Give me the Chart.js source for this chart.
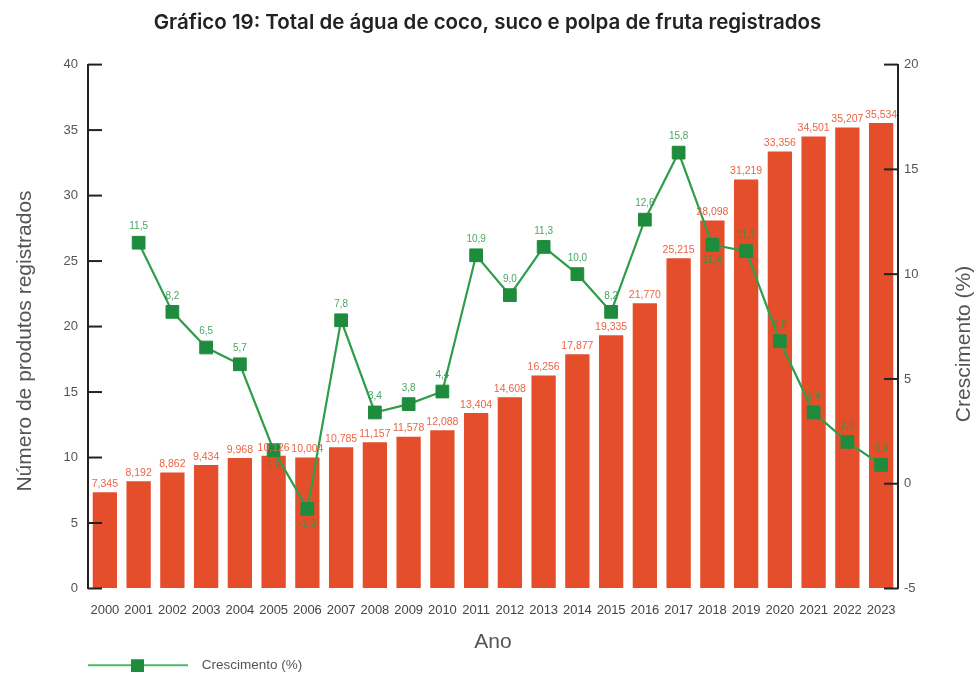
<!DOCTYPE html>
<html><head><meta charset="utf-8">
<script src="https://cdn.jsdelivr.net/npm/chart.js@4.4.1/dist/chart.umd.min.js"></script>
<style>html,body{margin:0;padding:0;background:#fff}#wrap{width:975px;height:683px}</style>
</head><body><div id="wrap"><canvas id="c" width="975" height="683"></canvas></div>
<script>
const years = ['2000','2001','2002','2003','2004','2005','2006','2007','2008','2009','2010','2011','2012','2013','2014','2015','2016','2017','2018','2019','2020','2021','2022','2023'];
const registered = [7.345,8.192,8.862,9.434,9.968,10.126,10.004,10.785,11.157,11.578,12.088,13.404,14.608,16.256,17.877,19.335,21.770,25.215,28.098,31.219,33.356,34.501,35.207,35.534];
const growth = [null,11.5,8.2,6.5,5.7,1.6,-1.2,7.8,3.4,3.8,4.4,10.9,9.0,11.3,10.0,8.2,12.6,15.8,11.4,11.1,6.8,3.4,2.0,0.9];
const growthLabelBelow = ['2005','2006','2018'];
const yLeftTitle = 'Número de produtos registrados';
const yRightTitle = 'Crescimento (%)';

const BAR = '#E44E2B', BARLBL = '#EC6446', GREEN = '#2E9E4A', MARK = '#1E8C3C', GLBL = 'rgba(40,150,70,0.85)';
const FONT = '"Liberation Sans", Arial, sans-serif';
const fmt = (v, d) => v.toFixed(d).replace('.', ',');

// legend icon: line with square marker
const icon = document.createElement('canvas');
icon.width = 185; icon.height = 14;
(function(){const g = icon.getContext('2d');
 g.strokeStyle = '#4CB86A'; g.lineWidth = 2; g.beginPath(); g.moveTo(78,7); g.lineTo(178,7); g.stroke();
 g.fillStyle = MARK; g.fillRect(121,1,13,13);})();

const deco = {
  id: 'deco',
  afterDatasetsDraw(chart) {
    const ctx = chart.ctx, ca = chart.chartArea;
    ctx.save();
    ctx.strokeStyle = '#222'; ctx.lineWidth = 2;
    const y = chart.scales.y, y2 = chart.scales.y2;
    y.ticks.forEach((t) => { const p = y.getPixelForValue(t.value); ctx.beginPath(); ctx.moveTo(ca.left, p); ctx.lineTo(ca.left + 14, p); ctx.stroke(); });
    y2.ticks.forEach((t) => { const p = y2.getPixelForValue(t.value); ctx.beginPath(); ctx.moveTo(ca.right - 14, p); ctx.lineTo(ca.right, p); ctx.stroke(); });
    ctx.font = '10.5px ' + FONT;
    ctx.textAlign = 'center'; ctx.textBaseline = 'bottom';
    ctx.fillStyle = BARLBL;
    chart.getDatasetMeta(0).data.forEach((el, i) => {
      ctx.fillText(fmt(registered[i], 3), el.x, el.y - 3);
    });
    ctx.font = '10px ' + FONT;
    ctx.fillStyle = GLBL; ctx.textBaseline = 'middle';
    chart.getDatasetMeta(1).data.forEach((el, i) => {
      if (growth[i] === null) return;
      const below = growthLabelBelow.includes(years[i]);
      ctx.fillText(fmt(growth[i], 1), el.x, el.y + (below ? 15 : -16));
    });
    ctx.restore();
  },
  afterDraw(chart) {
    const ctx = chart.ctx;
    ctx.save();
    ctx.font = '21px ' + FONT;
    ctx.fillStyle = '#555'; ctx.textAlign = 'center'; ctx.textBaseline = 'middle';
    ctx.save(); ctx.translate(25, 341); ctx.rotate(-Math.PI / 2); ctx.fillText(yLeftTitle, 0, 0); ctx.restore();
    ctx.save(); ctx.translate(964, 344); ctx.rotate(-Math.PI / 2); ctx.fillText(yRightTitle, 0, 0); ctx.restore();
    ctx.restore();
  }
};

new Chart(document.getElementById('c'), {
  data: {
    labels: years,
    datasets: [
      { type: 'bar', label: yLeftTitle, data: registered, backgroundColor: BAR, yAxisID: 'y', order: 2, barPercentage: 0.72, categoryPercentage: 1 },
      { type: 'line', label: yRightTitle, data: growth, yAxisID: 'y2', order: 1, borderColor: GREEN, borderWidth: 2.2, pointStyle: 'rect', pointRadius: 9, pointHoverRadius: 9, pointBackgroundColor: MARK, pointBorderColor: MARK, pointBorderWidth: 1, tension: 0, spanGaps: true }
    ]
  },
  options: {
    responsive: false, animation: false,
    layout: { padding: { left: 0, right: 0, top: 0, bottom: 1 } },
    plugins: {
      title: { display: true, text: 'Gráfico 19: Total de água de coco, suco e polpa de fruta registrados', color: '#222', font: { family: 'Inter, ' + FONT, size: 20.5, weight: '600' }, padding: { top: 11, bottom: 29 } },
      legend: { position: 'bottom', align: 'start',
        labels: { usePointStyle: true, pointStyleWidth: 185, color: '#555', font: { family: FONT, size: 13.5 }, padding: 10,
          generateLabels: () => [{ text: yRightTitle, pointStyle: icon, datasetIndex: 1, fontColor: '#555', lineWidth: 0, strokeStyle: 'transparent', fillStyle: 'transparent' }] } },
      tooltip: { enabled: false }
    },
    scales: {
      x: { grid: { display: false, drawTicks: false }, border: { display: false },
        ticks: { color: '#444', font: { family: FONT, size: 13 }, padding: 14, maxRotation: 0, autoSkip: false },
        title: { display: true, text: 'Ano', color: '#555', font: { family: FONT, size: 21 }, padding: { top: 4, bottom: -6 } },
        afterFit: (s) => { s.height = 60; } },
      y: { position: 'left', min: 0, max: 40, ticks: { stepSize: 5, color: '#555', font: { family: FONT, size: 13 }, padding: 10 },
        grid: { display: true, drawOnChartArea: false, drawTicks: false }, border: { display: true, color: '#222', width: 2 },
        afterFit: (s) => { s.width = 88; } },
      y2: { position: 'right', min: -5, max: 20, ticks: { stepSize: 5, color: '#555', font: { family: FONT, size: 13 }, padding: 6 },
        grid: { display: true, drawOnChartArea: false, drawTicks: false }, border: { display: true, color: '#222', width: 2 },
        afterFit: (s) => { s.width = 77; } }
    }
  },
  plugins: [deco]
});
</script></body></html>
